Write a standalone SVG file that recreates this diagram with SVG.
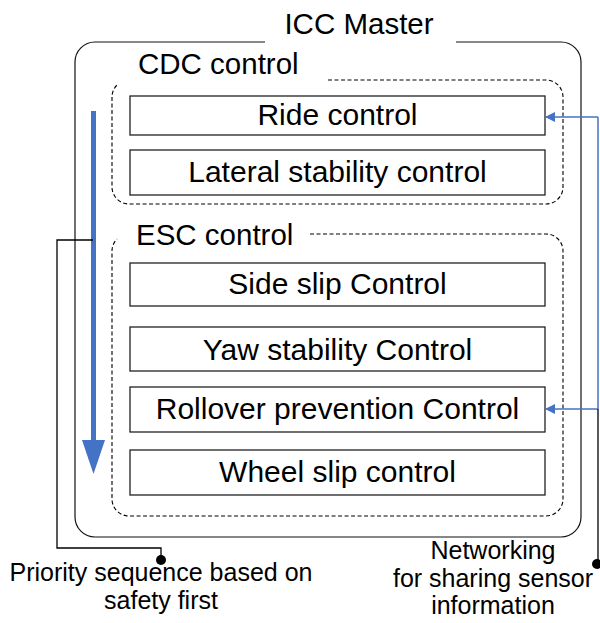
<svg xmlns="http://www.w3.org/2000/svg" width="600" height="623" viewBox="0 0 600 623">
<style>
text{font-family:"Liberation Sans",Arial,sans-serif;fill:#000}
.t{font-size:30px;text-anchor:middle}
.h{font-size:29.5px}
.lb{font-size:25px;text-anchor:middle}
.box{fill:#fff;stroke:#222;stroke-width:1.3}
.dash{fill:none;stroke:#000;stroke-width:1.1;stroke-dasharray:4 2.5}
.outer{fill:none;stroke:#111;stroke-width:1.2}
.blk{fill:none;stroke:#000;stroke-width:1.3}
.blu{fill:none;stroke:#4472C4;stroke-width:1.5}
</style>
<defs>
<marker id="ah" markerWidth="10" markerHeight="10" refX="9" refY="5" orient="auto" markerUnits="userSpaceOnUse" viewBox="0 0 10 10">
<path d="M0,0 L10,5 L0,10 z" fill="#4472C4"/>
</marker>
</defs>
<g id="icc-master">
<path class="outer" d="M265 42 H95 A20 20 0 0 0 75 62 V517 A20 20 0 0 0 95 537 H561 A20 20 0 0 0 581 517 V62 A20 20 0 0 0 561 42 H456"/>
<text class="h" x="359" y="34" text-anchor="middle">ICC Master</text>
</g>
<g id="cdc-control">
<path class="dash" d="M328 80 H546 A17 17 0 0 1 563 97 V187 A17 17 0 0 1 546 204 H129 A17 17 0 0 1 112 187 V97 A17 17 0 0 1 117 85"/>
<text class="h" x="138" y="74">CDC control</text>
</g>
<g id="ride-control">
<rect class="box" x="130" y="96" width="415" height="39"/>
<text class="t" x="337.5" y="125">Ride control</text>
</g>
<g id="lateral-stability-control">
<rect class="box" x="130" y="150" width="415" height="45"/>
<text class="t" x="337.5" y="182">Lateral stability control</text>
</g>
<g id="esc-control">
<path class="dash" d="M310 234 H546 A17 17 0 0 1 563 251 V499 A17 17 0 0 1 546 516 H129 A17 17 0 0 1 112 499 V251 A17 17 0 0 1 117 239"/>
<text class="h" x="136" y="245">ESC control</text>
</g>
<g id="side-slip-control">
<rect class="box" x="130" y="263" width="415" height="43"/>
<text class="t" x="337.5" y="294">Side slip Control</text>
</g>
<g id="yaw-stability-control">
<rect class="box" x="130" y="327" width="415" height="44"/>
<text class="t" x="337.5" y="360">Yaw stability Control</text>
</g>
<g id="rollover-prevention-control">
<rect class="box" x="130" y="387" width="415" height="45"/>
<text class="t" x="337.5" y="419">Rollover prevention Control</text>
</g>
<g id="wheel-slip-control">
<rect class="box" x="130" y="450" width="415" height="45"/>
<text class="t" x="337.5" y="482">Wheel slip control</text>
</g>
<g id="priority-label">
<text class="lb" x="161" y="581">Priority sequence based on</text>
<text class="lb" x="161" y="609">safety first</text>
</g>
<g id="networking-label">
<text class="lb" x="493" y="559">Networking</text>
<text class="lb" x="493" y="587">for sharing sensor</text>
<text class="lb" x="493" y="614">information</text>
</g>
<g id="connectors">
<rect x="91" y="111" width="5" height="330" fill="#4472C4"/>
<polygon points="82,440 105,440 93.5,474" fill="#4472C4"/>
<path class="blk" d="M93 240 H57 V548 H161 V558"/>
<circle cx="161" cy="560" r="5" fill="#000"/>
<path class="blu" d="M598 117 V409"/>
<path class="blu" d="M598 117 H546" marker-end="url(#ah)"/>
<path class="blu" d="M598 409 H546" marker-end="url(#ah)"/>
<path class="blk" d="M598 409 V562"/>
<circle cx="597" cy="564" r="5" fill="#000"/>
</g>
</svg>
